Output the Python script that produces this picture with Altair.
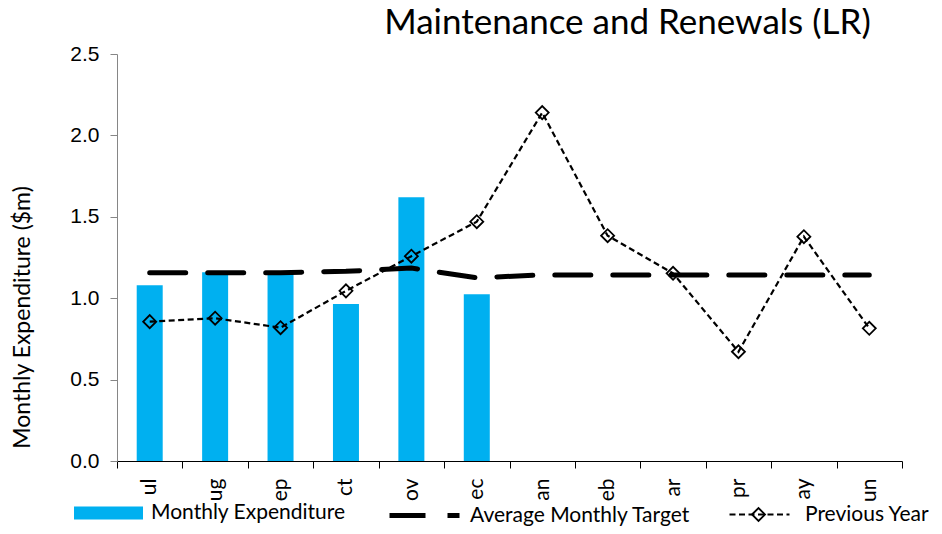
import altair as alt
import pandas as pd

months = ["Jul", "Aug", "Sep", "Oct", "Nov", "Dec", "Jan", "Feb", "Mar", "Apr", "May", "Jun"]
monthly_expenditure = [1.08, 1.16, 1.155, 0.965, 1.62, 1.025, None, None, None, None, None, None]
average_target = [1.157, 1.157, 1.157, 1.165, 1.185, 1.125, 1.143, 1.143, 1.143, 1.143, 1.143, 1.143]
previous_year = [0.856, 0.877, 0.819, 1.045, 1.258, 1.47, 2.14, 1.384, 1.153, 0.671, 1.378, 0.815]

df = pd.DataFrame({
    "month": months,
    "exp": monthly_expenditure,
    "target": average_target,
    "prev": previous_year,
    "s1": "Monthly Expenditure",
    "s2": "Average Monthly Target",
    "s3": "Previous Year",
})

LABEL_FONT = "Lato"
LEG_SIZE = 21

x_enc = alt.X(
    "month:N", sort=months, title=None,
    scale=alt.Scale(paddingInner=0, paddingOuter=0),
    axis=alt.Axis(
        labelExpr="substring(datum.label, 1)", labelAngle=-90,
        labelFont=LABEL_FONT, labelFontSize=21, labelColor="black",
        labelPadding=10, tickBand="extent", tickSize=7, tickColor="black",
        domainColor="black", domainWidth=1.2, grid=False,
    ),
)
y_scale = alt.Scale(domain=[0, 2.5], nice=False)
y_axis = alt.Axis(
    values=[0, 0.5, 1.0, 1.5, 2.0, 2.5], format=".1f",
    labelFont="Liberation Sans", labelFontSize=21, labelColor="black",
    labelPadding=11, tickSize=7, tickColor="#868686", domainColor="#868686",
    grid=False, title="Monthly Expenditure ($m)", titleFont=LABEL_FONT,
    titleFontSize=23, titleFontWeight="normal", titleColor="black",
    titleX=-88, titleY=263, titleAngle=-90, titleBaseline="alphabetic",
    titleAlign="center",
)

base = alt.Chart(df)

bars = base.transform_filter("datum.exp != null").mark_bar(size=26).encode(
    x=x_enc,
    y=alt.Y("exp:Q", scale=y_scale, axis=y_axis),
    fill=alt.Fill(
        "s1:N", scale=alt.Scale(domain=["Monthly Expenditure"], range=["#00B0F0"]),
        legend=alt.Legend(
            title=None, orient="none", legendX=-43, legendY=424.5, padding=0,
            symbolType="M-1,-0.19H1V0.19H-1Z", symbolSize=4761,
            symbolStrokeWidth=0, labelOffset=8, labelLimit=400,
            labelFont=LABEL_FONT, labelFontSize=LEG_SIZE, labelColor="black",
        ),
    ),
)

target = base.mark_line(strokeWidth=5, color="black", strokeCap="round").encode(
    x=x_enc,
    y=alt.Y("target:Q", scale=y_scale),
    strokeDash=alt.StrokeDash(
        "s2:N", scale=alt.Scale(domain=["Average Monthly Target"], range=[[36, 22]]),
        legend=alt.Legend(
            title=None, orient="none", legendX=270, legendY=424, padding=0,
            symbolType="M-1,0H1", symbolSize=4900, symbolStrokeWidth=5,
            symbolStrokeColor="black", labelOffset=8, labelLimit=400,
            labelFont=LABEL_FONT, labelFontSize=LEG_SIZE, labelColor="black",
        ),
    ),
)

prev_line = base.mark_line(color="black", strokeWidth=2.2).encode(
    x=x_enc,
    y=alt.Y("prev:Q", scale=y_scale),
    strokeDash=alt.StrokeDash(
        "s3:N", scale=alt.Scale(domain=["Previous Year"], range=[[6, 3.5]]),
        legend=alt.Legend(
            title=None, orient="none", legendX=611, legendY=429, padding=0,
            symbolType="M-1,0H1", symbolSize=3600, symbolStrokeWidth=2.2,
            symbolStrokeColor="black", labelOffset=14, labelLimit=400,
            labelFont=LABEL_FONT, labelFontSize=LEG_SIZE, labelColor="black",
        ),
    ),
)

prev_pts = base.mark_point(size=169, filled=False, color="black", strokeWidth=1.8, opacity=1).encode(
    x=x_enc,
    y=alt.Y("prev:Q", scale=y_scale),
    shape=alt.Shape(
        "s3:N", scale=alt.Scale(domain=["Previous Year"], range=["diamond"]),
        legend=alt.Legend(
            title=None, orient="none", legendX=634, legendY=453, padding=0,
            symbolSize=169, symbolStrokeWidth=1.8, symbolStrokeColor="black",
            symbolFillColor="white", labelExpr="''", labelFontSize=1,
        ),
    ),
)

chart = alt.layer(bars, target, prev_line, prev_pts).resolve_scale(
    strokeDash="independent"
).properties(
    width=785, height=407,
    autosize=alt.AutoSizeParams(type="none"),
    padding={"left": 109, "top": 46, "right": 30, "bottom": 65},
    title=alt.TitleParams(
        "Maintenance and Renewals (LR)", font=LABEL_FONT, fontSize=35,
        fontWeight="normal", color="black", anchor="middle", dx=118, offset=10, dy=8,
    ),
).configure_view(stroke=None)

chart.save("out.html", embed_options={"renderer": "svg", "actions": False})
